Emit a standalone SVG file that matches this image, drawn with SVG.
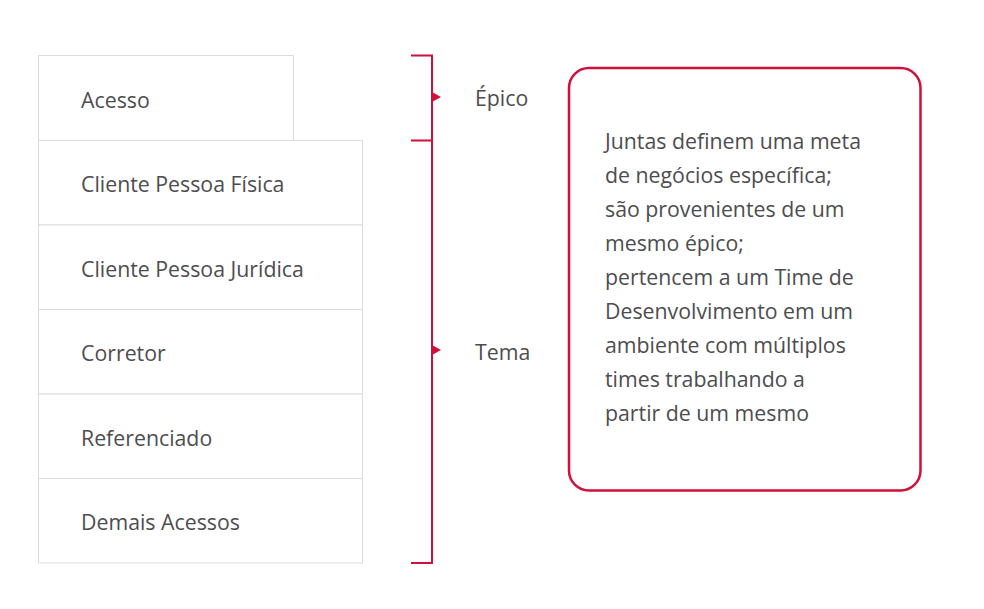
<svg xmlns="http://www.w3.org/2000/svg" width="984" height="609" viewBox="0 0 984 609">
<style>
.box{fill:#fff;stroke:#dcdcdc;stroke-width:1}
.t{font-family:"Open Sans","Liberation Sans",sans-serif;font-size:21.3px;fill:#4d4d4f}
.red{stroke:#d0103a;stroke-width:2;fill:none}
.tri{fill:#d0103a}
</style>
<rect width="984" height="609" fill="#fff"/>
<g id="acesso"><rect class="box" x="38.5" y="55.5" width="255" height="85"/><text class="t" x="81" y="108">Acesso</text></g>
<g id="pf"><rect class="box" x="38.5" y="140.5" width="324" height="84.5"/><text class="t" x="81" y="192">Cliente Pessoa Física</text></g>
<g id="pj"><rect class="box" x="38.5" y="225" width="324" height="84.5"/><text class="t" x="81" y="277">Cliente Pessoa Jurídica</text></g>
<g id="corretor"><rect class="box" x="38.5" y="309.5" width="324" height="84.5"/><text class="t" x="81" y="361">Corretor</text></g>
<g id="referenciado"><rect class="box" x="38.5" y="394" width="324" height="84.5"/><text class="t" x="81" y="446">Referenciado</text></g>
<g id="demais"><rect class="box" x="38.5" y="478.5" width="324" height="84.5"/><text class="t" x="81" y="530">Demais Acessos</text></g>
<g id="connectors">
<path class="red" d="M411 55.5H432V563H411M411 140.5H432"/>
<polygon class="tri" points="432,92 441,97 432,102"/>
<polygon class="tri" points="432,345 441,350 432,355"/>
</g>
<g id="epico"><text class="t" x="475" y="106">Épico</text></g>
<g id="tema"><text class="t" x="475" y="360">Tema</text></g>
<g id="desc">
<rect x="569" y="68" width="351.5" height="422.5" rx="20" fill="#fff" stroke="#d0103a" stroke-width="2.5"/>
<text class="t" x="605">
<tspan x="605" y="149">Juntas definem uma meta</tspan>
<tspan x="605" y="183">de negócios específica;</tspan>
<tspan x="605" y="217">são provenientes de um</tspan>
<tspan x="605" y="251">mesmo épico;</tspan>
<tspan x="605" y="285">pertencem a um Time de</tspan>
<tspan x="605" y="319">Desenvolvimento em um</tspan>
<tspan x="605" y="353">ambiente com múltiplos</tspan>
<tspan x="605" y="387">times trabalhando a</tspan>
<tspan x="605" y="421">partir de um mesmo</tspan>
</text>
</g>
</svg>
